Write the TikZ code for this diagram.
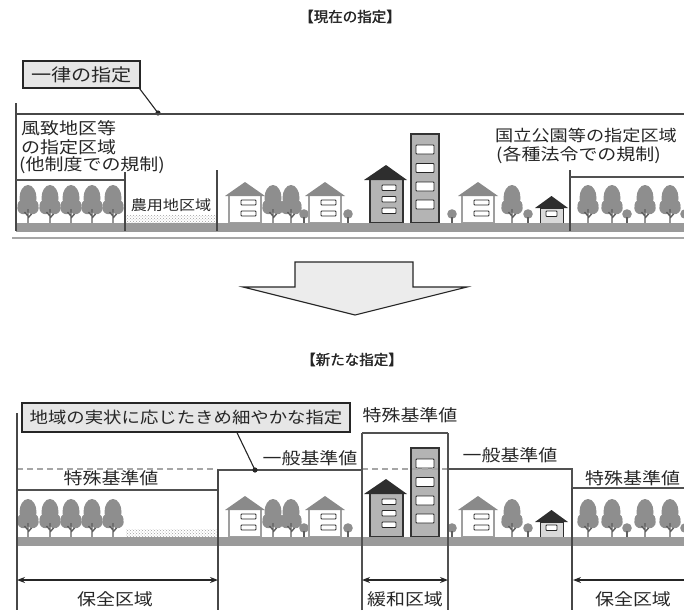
\documentclass[tikz,border=0pt]{standalone}
\usepackage{fontspec}
\setmainfont{Noto Sans CJK JP}
\newfontfamily\widefont{Noto Sans CJK JP}[FakeStretch=1.15]
\usetikzlibrary{arrows.meta,patterns}
\definecolor{ink}{HTML}{262626}
\definecolor{treegray}{HTML}{8E8E8E}
\definecolor{trunkgray}{HTML}{5E5E5E}
\definecolor{roofgray}{HTML}{8A8A8A}
\definecolor{darkroof}{HTML}{2E2E2E}
\definecolor{bldg}{HTML}{B4B4B4}
\definecolor{groundgray}{HTML}{9A9A9A}
\definecolor{boxfill}{HTML}{E6E6E6}

% heavy heading: the text overprinted with a small offset
\newcommand\heavytext[1]{\makebox[0pt][l]{#1}\kern0.5pt#1}

% one street of the town, ground line at y = 223
\newcommand\townrow{%
  % farmland strip
  \fill[pattern=crosshatch dots, pattern color=gray!75] (126,215) rectangle (217,222);
  % grove on the left
  \foreach \x in {28,50,71,92,113} \pic at (\x,223) {tree};
  % houses and trees of the built-up area
  \pic at (245,223) {house};
  \pic at (273,223) {tree};
  \pic at (291,223) {tree};
  \pic at (304,223) {bush};
  \pic at (325,223) {house};
  \pic at (348,223) {bush};
  % mid-rise block
  \filldraw[fill=bldg, draw=gray!40!black, line width=1.1pt] (370,179) rectangle (403,223);
  \fill[darkroof] (364,180) -- (386,165) -- (407,180) -- cycle;
  \foreach \y in {185,196.5,208} \draw[win] (382,\y) rectangle (396,\y+5.5);
  % high-rise block
  \filldraw[fill=bldg, draw=gray!40!black, line width=1.1pt] (411,134) rectangle (439,223);
  \foreach \y in {145,163.5,182,200} \draw[win] (416,\y) rectangle (434,\y+9);
  \pic at (452,223) {bush};
  \pic at (478,223) {house};
  \pic at (512,223) {tree};
  \pic at (528,223) {bush};
  % small house
  \fill[darkroof] (535,208) -- (551.5,196) -- (568,208) -- cycle;
  \filldraw[fill=gray!30, draw=darkroof, line width=1pt] (540,208) rectangle (563,223);
  \draw[win] (546,211) rectangle (557,216.5);
  % grove on the right
  \foreach \x in {588,612,645,670} \pic at (\x,223) {tree};
  \pic at (627,223) {bush};
  \pic at (685,223) {bush};
  % ground
  \fill[groundgray] (16,223) rectangle (684,232);
}

\begin{document}
\begin{tikzpicture}[x=1pt,y=-1pt,
  txt/.style={font=\widefont\fontsize{16.5}{16.5}\selectfont, text=ink, inner sep=0pt},
  title/.style={font=\fontsize{14.5}{14.5}\selectfont, text=ink, inner sep=0pt},
  callout/.style={draw=ink, line width=1.3pt, fill=boxfill, inner sep=0pt,
    font=\widefont\fontsize{16}{16}\selectfont, text=ink},
  frame/.style={draw=ink!85, line width=1.8pt},
  thin/.style={draw=ink!85, line width=1.1pt},
  level/.style={draw=ink!80, line width=1.6pt},
  dashline/.style={draw=gray!70, line width=1.1pt, dash pattern=on 6pt off 4pt},
  dimarrow/.style={draw=ink, line width=1.4pt, {Stealth[length=8pt,width=6pt]}-{Stealth[length=8pt,width=6pt]}},
  win/.style={draw=ink, fill=white, line width=0.9pt, rounded corners=0.8pt},
  tree/.pic={
    \fill[treegray] (0,-25) ellipse [x radius=8.5, y radius=13];
    \fill[treegray] (-4.5,-15) circle (6.2);
    \fill[treegray] (4.5,-15) circle (6.2);
    \fill[treegray] (0,-18) ellipse [x radius=10.5, y radius=7];
    \draw[trunkgray, line width=1.4pt] (0,-14) -- (0,0) (0,-7) -- (-3.5,-11) (0,-5) -- (3.5,-9);
  },
  bush/.pic={
    \fill[treegray] (0,-9) circle (4.8);
    \draw[trunkgray, line width=1.3pt] (0,-6) -- (0,0);
  },
  house/.pic={
    \filldraw[fill=white, draw=gray!75, line width=1.3pt] (-16,0) rectangle (16,-28);
    \fill[roofgray] (-20,-27) -- (0,-41) -- (20,-27) -- cycle;
    \draw[win] (-4,-23) rectangle (11,-18);
    \draw[win] (-4,-12) rectangle (11,-7);
  }]
\useasboundingbox (0,0) rectangle (684,610);
\clip (0,0) rectangle (684,610);

% ---------------- present designation ----------------
\node[title] (ttlnow) at (350,17) {\heavytext{【現在の指定】}};

\node[callout, minimum width=117pt, minimum height=27pt, font=\widefont\fontsize{17.5}{17.5}\selectfont] (uniform) at (81.5,74.5) {一律の指定};
\coordinate (udot) at (158,113);
\draw[line width=1.1pt, ink] ([xshift=-1pt]uniform.south east) -- (udot);
\fill[ink] (udot) circle (2.6);

\townrow

\draw[frame] (16,114) -- (684,114);
\draw[thin] (16,103) -- (16,231);
\draw[level] (16,180) -- (125,180);
\draw[thin] (125,172) -- (125,231);
\draw[thin] (217,170) -- (217,231);
\draw[thin] (570,170) -- (570,231);
\draw[level] (570,177) -- (684,177);
\draw[gray!70, line width=1.6pt] (12,238) -- (684,238);

\node[txt, anchor=west] (sc1) at (21,128) {風致地区等};
\node[txt, anchor=west] (sc2) at (21,147) {の指定区域};
\node[txt, anchor=west] (sc3) at (19,165) {(他制度での規制)};
\node[txt, font=\widefont\fontsize{14}{14}\selectfont] (farm) at (171,205) {農用地区域};
\node[txt, anchor=west, font=\widefont\fontsize{15.8}{15.8}\selectfont] (park1) at (495,135) {国立公園等の指定区域};
\node[txt, anchor=west] (park2) at (496,155) {(各種法令での規制)};

% ---------------- transition arrow ----------------
\filldraw[fill=gray!15, draw=ink, line width=1.1pt]
  (295,262) -- (413,262) -- (413,287) -- (467,287) -- (355,315)
  -- (243,287) -- (295,287) -- cycle;

% ---------------- new designation ----------------
\node[title] (ttlnew) at (352,360) {\heavytext{【新たな指定】}};

\begin{scope}[yshift=-314pt]
  \townrow
\end{scope}

% reference levels
\draw[dashline] (17,469) -- (217,469);
\draw[dashline] (362,469) -- (448,469);
\draw[level] (17,490) -- (218,490) -- (218,470) -- (362,470);
\draw[level] (362,433) -- (448,433);
\draw[level] (448,469) -- (572,469) -- (572,488) -- (684,488);

% zone boundaries
\draw[thin] (17,413) -- (17,610);
\draw[thin] (218,470) -- (218,610);
\draw[level] (362,610) -- (362,433);
\draw[level] (448,433) -- (448,610);
\draw[thin] (572,488) -- (572,610);

\node[callout, minimum width=328pt, minimum height=29pt] (fine) at (186,417.5) {地域の実状に応じたきめ細やかな指定};
\coordinate (fdot) at (255,470);
\draw[line width=1.1pt, ink] ([xshift=51pt]fine.south) -- (fdot);
\fill[ink] (fdot) circle (2.6);

\node[txt] (spl) at (111,478) {特殊基準値};
\node[txt] (gen1) at (310,458) {一般基準値};
\node[txt] (spm) at (410,415) {特殊基準値};
\node[txt] (gen2) at (510,455) {一般基準値};
\node[txt, anchor=west] (spr) at (585,478) {特殊基準値};

% zone extents
\coordinate (a1) at (17,580);  \coordinate (a2) at (218,580);
\coordinate (b1) at (362,580); \coordinate (b2) at (448,580);
\coordinate (c1) at (573,580); \coordinate (c2) at (700,580);
\draw[dimarrow] (a1) -- (a2);
\draw[dimarrow] (b1) -- (b2);
\draw[dimarrow] (c1) -- (c2);
\node[txt] (pz1) at (115,599) {保全区域};
\node[txt] (rz) at (405,599) {緩和区域};
\node[txt] (pz2) at (633,599) {保全区域};
\end{tikzpicture}
\end{document}
